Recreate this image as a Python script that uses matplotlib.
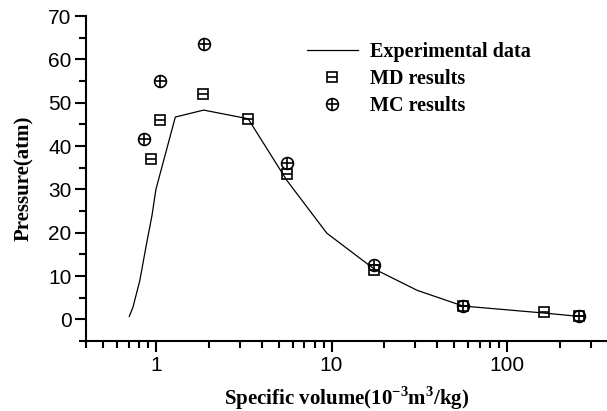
import matplotlib
matplotlib.use("Agg")
import matplotlib.pyplot as plt
from matplotlib.ticker import LogLocator, NullFormatter, FixedLocator

# experimental curve
exp_v = [0.705, 0.74, 0.81, 0.88, 0.95, 1.0, 1.29, 1.87, 3.35, 5.56, 9.4, 17.4, 30.8, 56, 160, 258]
exp_p = [0.7, 2.8, 9.0, 17.0, 24.0, 30.0, 46.7, 48.3, 46.3, 32.1, 19.9, 11.7, 6.7, 3.1, 1.5, 0.7]

# MD results
md_v = [0.933, 1.054, 1.86, 3.35, 5.56, 17.4, 56, 163, 255]
md_p = [37.1, 46.0, 52.1, 46.3, 33.5, 11.5, 3.2, 1.7, 0.7]

# MC results
mc_v = [0.854, 1.05, 1.87, 5.56, 17.4, 56, 258]
mc_p = [41.6, 55.0, 63.5, 36.2, 12.6, 3.2, 0.7]

serif = "Liberation Serif"
sans = "Liberation Sans"
plt.rcParams["mathtext.fontset"] = "custom"
plt.rcParams["mathtext.rm"] = "Liberation Serif:bold"
plt.rcParams["mathtext.bf"] = "Liberation Serif:bold"

fig = plt.figure(figsize=(6.07, 4.11), dpi=100)
ax = fig.add_axes([0.1417, 0.170, 0.8583, 0.791])

line, = ax.plot(exp_v, exp_p, color="black", lw=0.9)
md_box, = ax.plot(md_v, md_p, ls="none", marker="s", ms=7, mfc="none", mec="black", mew=1.2)
md_bar, = ax.plot(md_v, md_p, ls="none", marker="_", ms=7, mec="black", mew=1.2)
mc_circ, = ax.plot(mc_v, mc_p, ls="none", marker="o", ms=8.5, mfc="none", mec="black", mew=1.2)
mc_plus, = ax.plot(mc_v, mc_p, ls="none", marker="+", ms=8.5, mec="black", mew=1.2)

ax.set_xscale("log")
ax.set_xlim(0.4, 370)
ax.set_ylim(-5, 70)

ax.xaxis.set_major_locator(FixedLocator([1, 10, 100]))
ax.set_xticklabels(["1", "10", "100"])
ax.xaxis.set_minor_locator(LogLocator(base=10, subs=range(2, 10)))
ax.xaxis.set_minor_formatter(NullFormatter())
ax.set_yticks([0, 10, 20, 30, 40, 50, 60, 70])
ax.yaxis.set_minor_locator(FixedLocator([-5, 5, 15, 25, 35, 45, 55, 65]))

for s in ["top", "right"]:
    ax.spines[s].set_visible(False)
for s in ["left", "bottom"]:
    ax.spines[s].set_linewidth(1.5)

ax.tick_params(which="major", direction="out", length=8, width=1.5, labelsize=15, pad=2.5)
ax.tick_params(which="minor", direction="out", length=5, width=1.5)
for lbl in ax.get_xticklabels() + ax.get_yticklabels():
    lbl.set_fontfamily(sans)

ax.set_xlabel(r"Specific volume(10$^{\mathbf{-3}}$m$^{\mathbf{3}}$/kg)", fontfamily=serif,
              fontweight="bold", fontsize=15, labelpad=7)
ax.set_ylabel("Pressure(atm)", fontfamily=serif, fontweight="bold", fontsize=15, labelpad=10)

leg = ax.legend([line, (md_box, md_bar), (mc_circ, mc_plus)],
                ["Experimental data", "MD results", "MC results"],
                loc="upper left", bbox_to_anchor=(0.39, 0.975), frameon=False,
                prop={"family": serif, "weight": "bold", "size": 14.5},
                handlelength=2.5, labelspacing=0.35, handletextpad=0.6)

fig.savefig("out.png", dpi=100)
